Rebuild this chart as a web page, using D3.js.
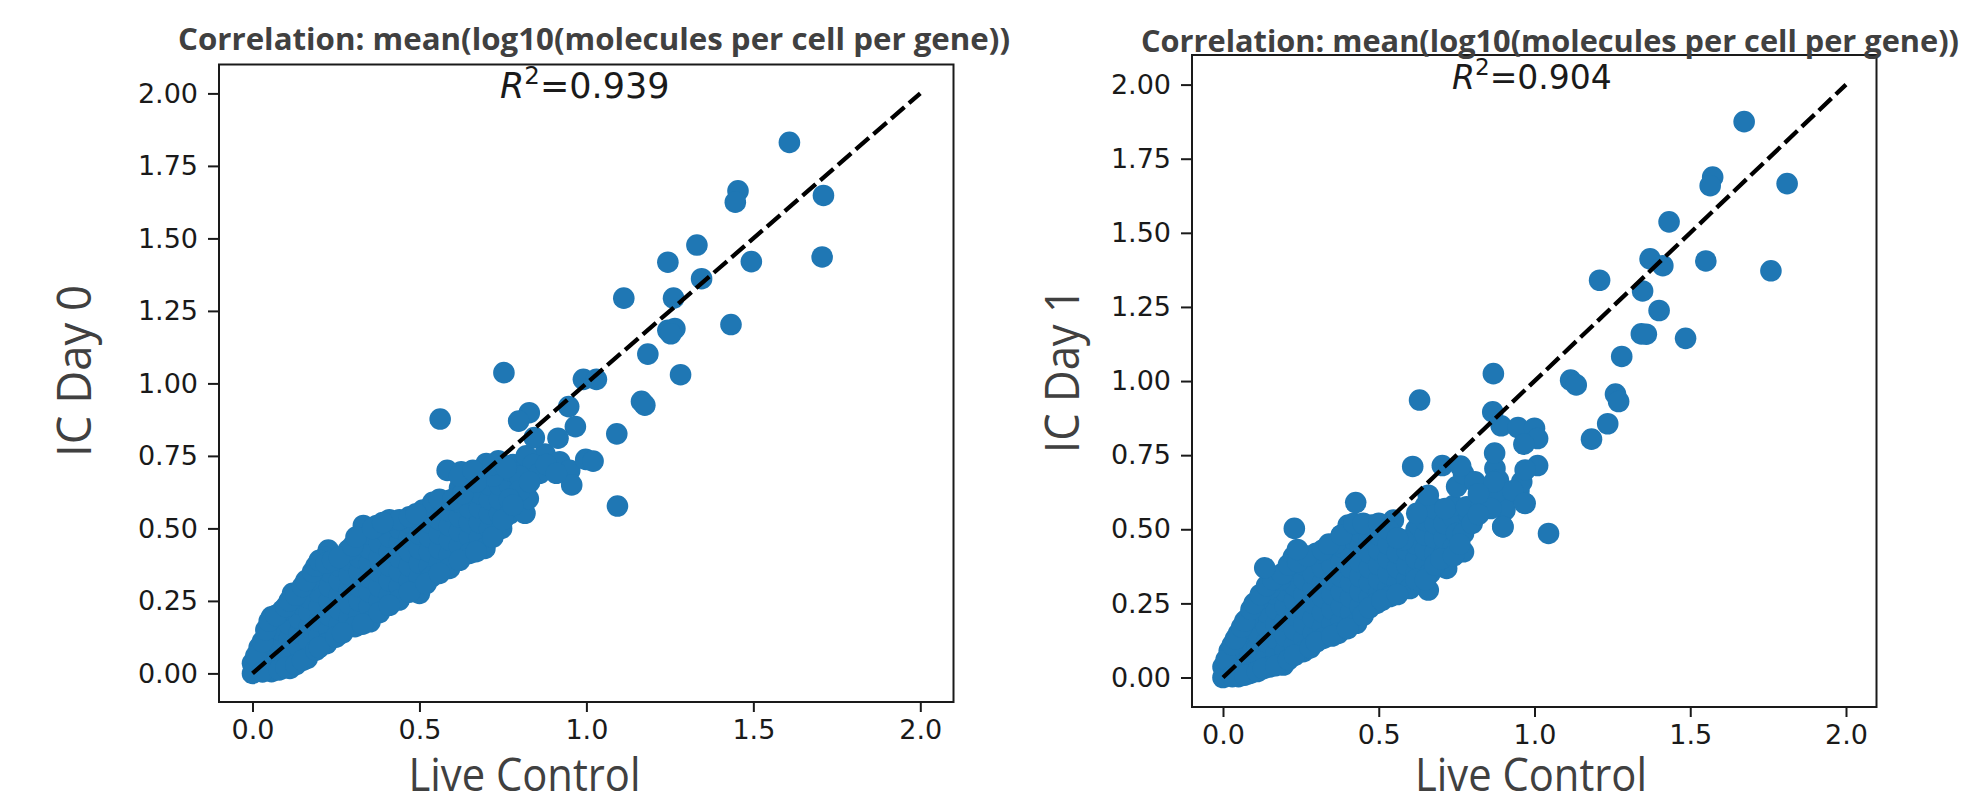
<!DOCTYPE html>
<html><head><meta charset="utf-8">
<script src="https://cdn.jsdelivr.net/npm/d3@7"></script>
<style>html,body{margin:0;padding:0;background:#fff}svg{display:block}</style>
</head><body><svg id="c" width="1963" height="809"></svg>
<script>
const titleText = "Correlation: mean(log10(molecules per cell per gene))";
const xLabel = "Live Control";
const xTicks = [0, 0.5, 1, 1.5, 2];
const yTicks = [0, 0.25, 0.5, 0.75, 1, 1.25, 1.5, 1.75, 2];
const fitLine = [[0, 0], [2, 2]];

const day0Outliers = [[1.608,1.831],[1.454,1.664],[1.446,1.625],[1.71,1.648],[1.706,1.436],[1.331,1.477],[1.244,1.418],[1.494,1.42],[1.345,1.361],[1.112,1.294],[1.261,1.294],[1.433,1.203],[1.244,1.183],[1.265,1.189],[1.253,1.171],[1.184,1.101],[1.282,1.03],[.753,1.037],[.991,1.014],[1.03,1.014],[1.165,.938],[1.175,.925],[1.091,.826],[1.093,.577],[.562,.877],[.947,.92],[.967,.851],[.915,.811],[.829,.899],[.797,.87],[.844,.813]];
const day0Edge = [[0,.035],[.02,.09],[.057,.195],[.09,.218],[.12,.276],[.17,.32],[.227,.425],[.217,.40],[.287,.425],[.332,.51],[.372,.51],[.41,.53],[.44,.53],[.51,.563],[.54,.59],[.59,.597],[.583,.70],[.625,.695],[.70,.724],[.736,.733],[.876,.756],[.92,.73],[.95,.70],[.956,.65],[.998,.738],[1.02,.732],[.816,.552],[.826,.603],[.746,.5],[.696,.431],[.65,.414],[.59,.362],[.536,.333],[.5,.276],[.439,.253],[.352,.178],[.307,.161],[.222,.103],[.164,.052],[.112,.017],[.057,.006],[0,0],[.66,.66],[.72,.68],[.78,.72],[.82,.75],[.84,.72],[.80,.68],[.86,.69],[.80,.63],[.77,.6],[.83,.66],[.88,.72],[.91,.69],
  [.01,.06],[.03,.11],[.04,.15],[.05,.18],[.07,.2],[.1,.23],[.11,.25],[.13,.27],[.15,.3],[.16,.32],[.18,.35],[.19,.37],[.2,.39],[.22,.38],[.24,.39],[.26,.4],[.3,.44],[.31,.47],[.36,.5],[.39,.52],[.47,.54],[.49,.55],[.56,.6],[.6,.6],[.63,.62],[.67,.66],[.62,.68],[.66,.7],[.72,.72],[.76,.71],
  [.03,.005],[.08,.012],[.1,.02],[.13,.03],[.15,.045],[.19,.08],[.2,.09],[.25,.125],[.27,.14],[.33,.17],[.38,.21],[.41,.235],[.47,.28],[.52,.31],[.56,.345],[.62,.39],[.67,.42],[.72,.47],[.75,.53],[.78,.58]];
const day0Fill = [[.03,.03],[.05,.05],[.05,.1],[.08,.05],[.08,.1],[.08,.15],[.11,.07],[.11,.12],[.11,.17],[.11,.22],[.14,.09],[.14,.14],[.14,.19],[.14,.24],[.17,.11],[.17,.16],[.17,.21],[.17,.26],[.2,.13],[.2,.18],[.2,.23],[.2,.28],[.2,.33],[.23,.15],[.23,.2],[.23,.25],[.23,.3],[.23,.35],[.26,.17],[.26,.22],[.26,.27],[.26,.32],[.26,.37],[.29,.19],[.29,.24],[.29,.29],[.29,.34],[.29,.39],[.32,.2],[.32,.25],[.32,.3],[.32,.35],[.32,.4],[.32,.45],[.35,.23],[.35,.28],[.35,.33],[.35,.38],[.35,.43],[.35,.48],[.38,.25],[.38,.3],[.38,.35],[.38,.4],[.38,.45],[.38,.5],[.41,.27],[.41,.32],[.41,.37],[.41,.42],[.41,.47],[.44,.3],[.44,.35],[.44,.4],[.44,.45],[.44,.5],[.47,.32],[.47,.37],[.47,.42],[.47,.47],[.47,.52],[.5,.33],[.5,.38],[.5,.43],[.5,.48],[.5,.53],[.53,.37],[.53,.42],[.53,.47],[.53,.52],[.53,.57],[.56,.38],[.56,.43],[.56,.48],[.56,.53],[.56,.58],[.59,.41],[.59,.46],[.59,.51],[.59,.56],[.62,.44],[.62,.49],[.62,.54],[.62,.59],[.62,.64],[.65,.47],[.65,.52],[.65,.57],[.65,.62],[.68,.47],[.68,.52],[.68,.57],[.68,.62],[.68,.67],[.71,.5],[.71,.55],[.71,.6],[.71,.65],[.74,.55],[.74,.6],[.74,.65],[.74,.7],[.77,.55],[.77,.65],[.77,.7],[.65,.68]];

const day1Outliers = [[1.673,1.875],[1.572,1.688],[1.564,1.659],[1.811,1.666],[1.759,1.372],[1.432,1.537],[1.55,1.405],[1.371,1.412],[1.412,1.389],[1.209,1.34],[1.347,1.304],[1.40,1.238],[1.485,1.144],[1.343,1.159],[1.359,1.158],[1.28,1.083],[.868,1.025],[.631,.936],[1.116,1.003],[1.134,.987],[1.26,.956],[1.27,.931],[1.235,.856],[1.183,.804],[1.045,.486],[.866,.896],[.893,.849],[.947,.843],[1.0,.841],[1.01,.806],[.966,.787],[1.01,.715],[.97,.70],[.872,.757],[.609,.712],[.704,.715],[.763,.713],[.968,.588],[.899,.508],[.426,.59],[.229,.503],[.134,.37],[.239,.432]];
const day1Edge = [[0,.036],[.02,.09],[.05,.149],[.08,.2],[.113,.261],[.15,.3],[.183,.329],[.226,.407],[.299,.419],[.36,.452],[.402,.514],[.477,.514],[.547,.531],[.579,.464],[.622,.554],[.659,.615],[.713,.57],[.782,.576],[.75,.644],[.772,.688],[.809,.66],[.873,.705],[.884,.666],[.959,.66],[.83,.576],[.905,.565],[.898,.509],[.97,.587],[.772,.424],[.718,.368],[.659,.295],[.6,.30],[.664,.351],[.536,.273],[.493,.25],[.429,.183],[.37,.149],[.322,.132],[.258,.087],[.194,.042],[.151,.036],[.087,.014],[.05,.003],[0,0],[.872,.62],[.86,.57],[.93,.63],[.87,.66],[.82,.62],[.75,.486],[.772,.486],
  [.01,.06],[.03,.11],[.04,.13],[.06,.17],[.07,.19],[.09,.23],[.1,.25],[.12,.28],[.14,.31],[.16,.33],[.19,.35],[.21,.38],[.24,.39],[.27,.41],[.32,.43],[.34,.45],[.38,.48],[.42,.52],[.45,.52],[.5,.52],[.53,.5],[.56,.47],
  [.03,.003],[.07,.008],[.11,.02],[.13,.03],[.17,.04],[.21,.06],[.23,.075],[.28,.1],[.3,.12],[.35,.14],[.4,.165],[.45,.21],[.47,.235],[.51,.26],[.56,.28],[.62,.33],[.65,.33],[.68,.38],[.7,.4],[.74,.41],[.76,.45],[.8,.52],[.82,.55]];
const day1Fill = [[.03,.03],[.05,.05],[.05,.1],[.08,.05],[.08,.1],[.08,.15],[.11,.05],[.11,.1],[.11,.15],[.11,.2],[.14,.07],[.14,.12],[.14,.17],[.14,.22],[.14,.27],[.17,.08],[.17,.13],[.17,.18],[.17,.23],[.17,.28],[.2,.09],[.2,.14],[.2,.19],[.2,.24],[.2,.29],[.2,.34],[.23,.11],[.23,.16],[.23,.21],[.23,.26],[.23,.31],[.23,.36],[.26,.13],[.26,.18],[.26,.23],[.26,.28],[.26,.33],[.26,.38],[.29,.15],[.29,.2],[.29,.25],[.29,.3],[.29,.35],[.32,.17],[.32,.22],[.32,.27],[.32,.32],[.32,.37],[.32,.42],[.35,.18],[.35,.23],[.35,.28],[.35,.33],[.35,.38],[.35,.43],[.38,.19],[.38,.24],[.38,.29],[.38,.34],[.38,.39],[.38,.44],[.38,.48],[.41,.22],[.41,.27],[.41,.32],[.41,.37],[.41,.42],[.41,.47],[.44,.24],[.44,.29],[.44,.34],[.44,.39],[.44,.44],[.44,.49],[.47,.27],[.47,.32],[.47,.37],[.47,.42],[.47,.47],[.5,.28],[.5,.33],[.5,.38],[.5,.43],[.5,.48],[.53,.3],[.53,.35],[.53,.4],[.53,.45],[.56,.32],[.56,.37],[.56,.42],[.56,.47],[.59,.33],[.59,.38],[.59,.43],[.62,.35],[.62,.4],[.62,.45],[.62,.5],[.65,.38],[.65,.43],[.65,.48],[.65,.53],[.65,.58],[.68,.42],[.68,.47],[.68,.52],[.68,.57],[.71,.42],[.71,.47],[.71,.52],[.74,.44],[.74,.54],[.74,.58],[.79,.55],[.91,.61],[.95,.63]];

const panels = [
  {ylabel:"IC Day 0", r2:"0.939", pts:day0Fill.concat(day0Edge, day0Outliers),
   frame:[219,953.5,64.5,702], xr:[252.5,920.3], yr:[673.4,93.4],
   titleX:178, titleLen:832, titleY:50, r2X:500, r2Y:98, r2Size:35, xlC:524.5, ylX:91, ylC:371, ylLen:172},
  {ylabel:"IC Day 1", r2:"0.904", pts:day1Fill.concat(day1Edge, day1Outliers),
   frame:[1192,1876.5,55,707], xr:[1223,1846], yr:[677.5,84.6],
   titleX:1141, titleLen:818, titleY:52, r2X:1452, r2Y:89, r2Size:33, xlC:1531, ylX:1078.6, ylC:370.5, ylLen:165}
];

const svg = d3.select("#c");
const tickFont = "DejaVu Sans, sans-serif", labelFont = "'Open Sans', sans-serif";
const dark = "#1a1a1a", grey = "#404040";

panels.forEach(p => {
  const [l, r, t, b] = p.frame;
  const x = d3.scaleLinear().domain([0, 2]).range(p.xr);
  const y = d3.scaleLinear().domain([0, 2]).range(p.yr);
  const g = svg.append("g");

  g.selectAll("circle").data(p.pts).join("circle")
    .attr("cx", d => x(d[0])).attr("cy", d => y(d[1])).attr("r", 10.8).attr("fill", "#1f77b4");

  g.append("path").attr("d", d3.line().x(d => x(d[0])).y(d => y(d[1]))(fitLine))
    .attr("fill", "none").attr("stroke", "#000").attr("stroke-width", 4.3).attr("stroke-dasharray", "17.5 6");

  g.append("rect").attr("x", l).attr("y", t).attr("width", r - l).attr("height", b - t)
    .attr("fill", "none").attr("stroke", dark).attr("stroke-width", 2);

  const ax = g.append("g").attr("transform", `translate(0,${b})`)
    .call(d3.axisBottom(x).tickValues(xTicks).tickFormat(d3.format(".1f")).tickSize(10).tickPadding(8));
  const ay = g.append("g").attr("transform", `translate(${l},0)`)
    .call(d3.axisLeft(y).tickValues(yTicks).tickFormat(d3.format(".2f")).tickSize(11).tickPadding(10));
  [ax, ay].forEach(a => {
    a.select(".domain").remove();
    a.selectAll("line").attr("stroke", dark).attr("stroke-width", 2);
    a.selectAll("text").attr("fill", dark).style("font-family", tickFont).style("font-size", "27px");
  });

  g.append("text").attr("x", p.titleX).attr("y", p.titleY)
    .attr("textLength", p.titleLen).attr("lengthAdjust", "spacingAndGlyphs")
    .attr("fill", grey).style("font-family", labelFont).style("font-weight", 700).style("font-size", "31px")
    .text(titleText);

  const rt = g.append("text").attr("x", p.r2X).attr("y", p.r2Y).attr("fill", dark)
    .style("font-family", tickFont).style("font-size", p.r2Size + "px");
  rt.append("tspan").style("font-style", "italic").text("R");
  rt.append("tspan").attr("dy", -14).style("font-size", (p.r2Size * 0.7) + "px").text("2");
  rt.append("tspan").attr("dy", 14).text("=" + p.r2);

  g.append("text").attr("x", p.xlC).attr("y", 791).attr("text-anchor", "middle")
    .attr("textLength", 232).attr("lengthAdjust", "spacingAndGlyphs")
    .attr("fill", grey).style("font-family", labelFont).style("font-size", "46px").text(xLabel);

  g.append("text").attr("transform", `translate(${p.ylX},${p.ylC}) rotate(-90)`).attr("text-anchor", "middle")
    .attr("textLength", p.ylLen).attr("lengthAdjust", "spacingAndGlyphs")
    .attr("fill", grey).style("font-family", labelFont).style("font-size", "47px").text(p.ylabel);
});
</script></body></html>
